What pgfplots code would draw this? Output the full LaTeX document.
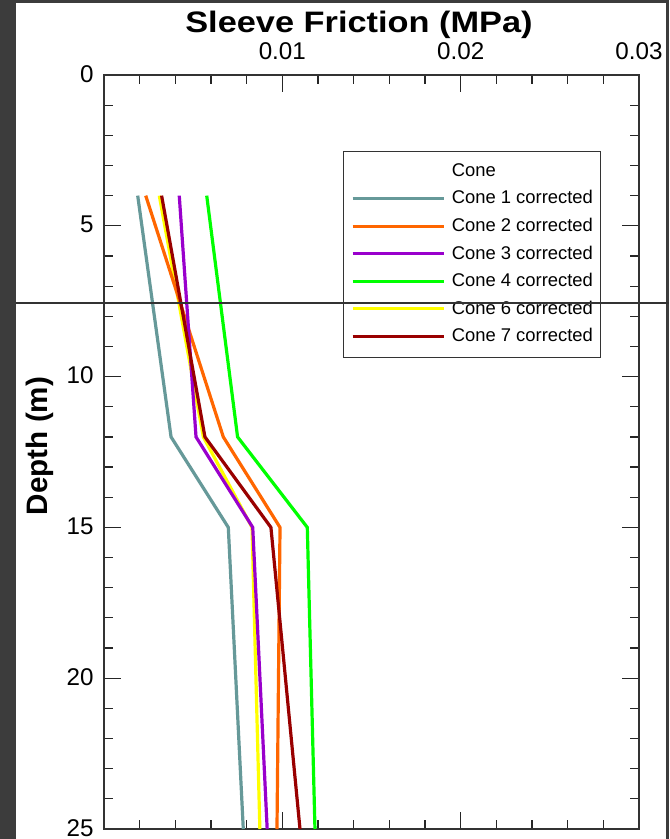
\documentclass[border=0pt]{standalone}
\usepackage{fontspec}
\setmainfont{Liberation Sans}
\usepackage{pgfplots}
\pgfplotsset{compat=1.18}
\definecolor{bgdark}{HTML}{3C3C3C}
\definecolor{cA}{HTML}{669999}
\definecolor{cB}{HTML}{FF6600}
\definecolor{cC}{HTML}{9900CC}
\definecolor{cD}{HTML}{00FF00}
\definecolor{cF}{HTML}{FFFF00}
\definecolor{cG}{HTML}{990000}
\begin{document}
\begin{tikzpicture}[x=1pt,y=1pt]
\path[use as bounding box] (-52,-5) rectangle (282.5,414.5);
\fill[bgdark] (-52,-5) rectangle (282.5,414.5);
\fill[white] (-44,-5) rectangle (281,413);
\begin{axis}[
  at={(0,0)}, anchor=south west,
  scale only axis, width=267.5pt, height=377pt,
  xmin=0, xmax=0.03, ymin=0, ymax=25, y dir=reverse,
  xtick={0,0.01,0.02,0.03}, xticklabels={,0.01,0.02,0.03},
  scaled x ticks=false, minor x tick num=4,
  ytick={0,5,10,15,20,25}, minor y tick num=4,
  xticklabel pos=upper, yticklabel pos=left,
  tick align=inside, major tick length=8.5pt, minor tick length=4.3pt,
  tick style={black!85, line width=0.6pt},
  axis line style={black!80, line width=0.55pt},
  /pgf/number format/assume math mode=true,
  ticklabel style={font=\fontsize{12.1pt}{14pt}\selectfont, inner sep=0pt},
  xticklabel style={anchor=south, text depth=0pt, yshift=7.5pt},
  yticklabel style={anchor=east, text depth=0pt, xshift=-5pt, yshift=0.6pt},
  title={\scalebox{1.16}[1]{Sleeve Friction (MPa)}},
  title style={at={(axis description cs:0.4766,1)}, anchor=base, yshift=15.25pt, inner sep=0pt, font=\fontsize{14.8pt}{17pt}\selectfont\bfseries},
  ylabel={Depth (m)},
  ylabel style={at={(axis description cs:-0.1041,0.508)}, anchor=south, rotate=0, inner sep=0pt, text depth=0pt, font=\fontsize{14.8pt}{17pt}\selectfont\bfseries},
  legend image code/.code={\draw[#1] (0pt,0pt) -- (45.8pt,0pt);},
  legend cell align=left,
  legend style={at={(axis description cs:0.4467,0.8996)}, anchor=north west,
    draw=black!80, line width=0.5pt, inner xsep=3.85pt, inner ysep=6.2pt,
    row sep=5.6pt, column sep=3pt, nodes={inner sep=0pt},
    font=\fontsize{9.2pt}{11pt}\selectfont},
]
\addplot[cF, line width=1.6pt, forget plot] coordinates {(0.0031,4) (0.00557,12) (0.0083,15) (0.00874,25)};
\addplot[cA, line width=1.6pt, forget plot] coordinates {(0.00189,4) (0.00376,12) (0.00697,15) (0.00781,25)};
\addplot[cB, line width=1.6pt, forget plot] coordinates {(0.00234,4) (0.00669,12) (0.00987,15) (0.0097,25)};
\addplot[cC, line width=1.6pt, forget plot] coordinates {(0.00422,4) (0.00516,12) (0.00834,15) (0.00915,25)};
\addplot[cD, line width=1.6pt, forget plot] coordinates {(0.00576,4) (0.00749,12) (0.0114,15) (0.01183,25)};
\addplot[cG, line width=1.6pt, forget plot] coordinates {(0.00323,4) (0.00566,12) (0.00936,15) (0.01099,25)};
\addlegendimage{empty legend}\addlegendentry{Cone}
\addlegendimage{cA, line width=1.5pt}\addlegendentry{Cone 1 corrected}
\addlegendimage{cB, line width=1.5pt}\addlegendentry{Cone 2 corrected}
\addlegendimage{cC, line width=1.5pt}\addlegendentry{Cone 3 corrected}
\addlegendimage{cD, line width=1.5pt}\addlegendentry{Cone 4 corrected}
\addlegendimage{cF, line width=1.5pt}\addlegendentry{Cone 6 corrected}
\addlegendimage{cG, line width=1.5pt}\addlegendentry{Cone 7 corrected}
\end{axis}
\draw[black!80, line width=0.6pt] (-44,263) -- (282.5,263);
\end{tikzpicture}
\end{document}
